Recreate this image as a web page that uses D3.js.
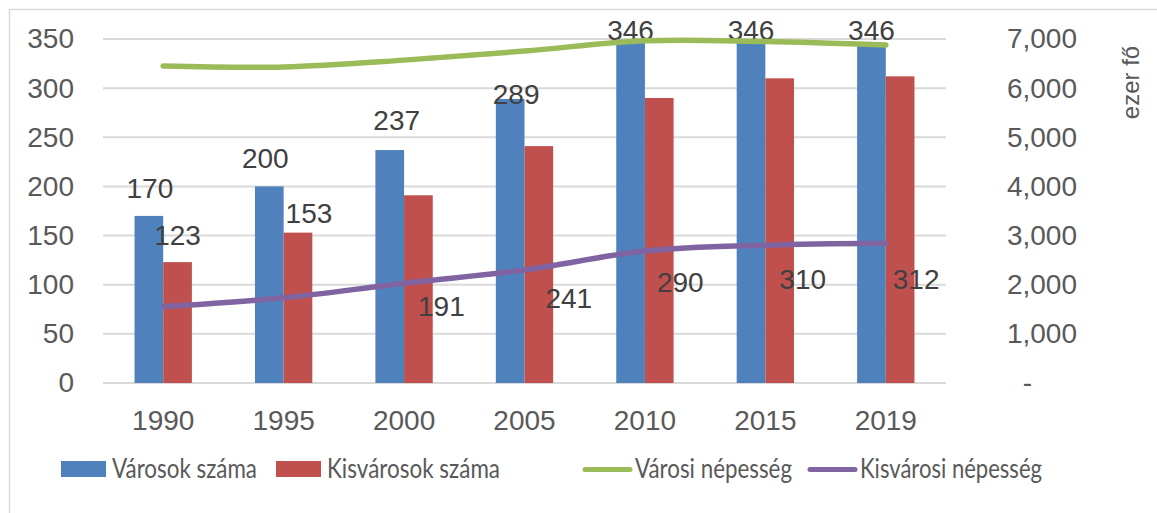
<!DOCTYPE html>
<html>
<head>
<meta charset="utf-8">
<script src="https://cdn.jsdelivr.net/npm/d3@7"></script>
<style>
  body { margin: 0; background: #fff; }
  svg { display: block; }
</style>
</head>
<body>
<div id="chart"></div>
<script>
// Data
const years = ["1990", "1995", "2000", "2005", "2010", "2015", "2019"];
const varosokSzama = [170, 200, 237, 289, 346, 346, 346];
const kisvarosokSzama = [123, 153, 191, 241, 290, 310, 312];
const varosiNepesseg = [6450, 6430, 6570, 6755, 6965, 6950, 6880];
const kisvarosiNepesseg = [1555, 1735, 2030, 2300, 2685, 2805, 2845];
const leftTicks = [0, 50, 100, 150, 200, 250, 300, 350];
const rightTicks = [0, 1000, 2000, 3000, 4000, 5000, 6000, 7000];

// label placement (as in the original, labels were moved by hand)
const blueLabelAt = [188, 219, 257, 284, 349, 349, 349];
const blueLabelDx = [1, -4, 7, 6, 0, 0, 0];
const redLabelAt = [140, 163, 68, 76, 93, 96, 96];
const redLabelDx = [0, 11, 23, 30, 21, 23, 16];

const W = 1157, H = 513;
const margin = {top: 39, right: 211, bottom: 130, left: 103};
const width = W - margin.left - margin.right,
      height = H - margin.top - margin.bottom;

const svg = d3.select("#chart").append("svg")
    .attr("width", W).attr("height", H);

// outer chart border
svg.append("rect")
    .attr("x", 9.5).attr("y", 9.5)
    .attr("width", W + 20).attr("height", H + 20)
    .attr("fill", "none").attr("stroke", "#d9d9d9").attr("stroke-width", 1.5);

const g = svg.append("g").attr("transform", `translate(${margin.left},${margin.top})`);

const x0 = d3.scaleBand().domain(years).range([0, width]);
const x1 = d3.scaleBand().domain(["v", "k"]).range([0, x0.bandwidth()]).paddingOuter(1.1);
const y = d3.scaleLinear().domain([0, 350]).range([height, 0]);
const y2 = d3.scaleLinear().domain([0, 7000]).range([height, 0]);

const numFont = "'Liberation Sans', Arial, sans-serif";

// gridlines
g.append("g").selectAll("line").data(leftTicks).join("line")
    .attr("x1", 0).attr("x2", width)
    .attr("y1", d => y(d)).attr("y2", d => y(d))
    .attr("stroke", "#d9d9d9").attr("stroke-width", 2);

// left axis
const la = g.append("g").call(d3.axisLeft(y).tickValues(leftTicks).tickSize(0).tickPadding(29));
la.select(".domain").remove();
la.selectAll("text").attr("font-family", numFont).attr("font-size", 28).attr("fill", "#595959");

// right axis
const ra = g.append("g").attr("transform", `translate(${width + 131},0)`)
    .call(d3.axisRight(y2).tickValues(rightTicks).tickSize(0).tickPadding(0)
      .tickFormat(d => d === 0 ? "-" : d3.format(",")(d)));
ra.select(".domain").remove();
ra.selectAll("text").attr("font-family", numFont).attr("font-size", 28).attr("fill", "#595959")
    .attr("text-anchor", "end").attr("x", 0)
    .filter(d => d === 0).attr("x", -45);

// right axis title
g.append("text")
    .attr("transform", `translate(${width + 193},${82.5 - margin.top}) rotate(-90)`)
    .attr("text-anchor", "middle")
    .attr("font-family", numFont).attr("font-size", 24).attr("fill", "#595959")
    .text("ezer fő");

// x axis labels
const xa = g.append("g").attr("transform", `translate(0,${height})`)
    .call(d3.axisBottom(x0).tickSize(0));
xa.select(".domain").remove();
xa.selectAll("text").attr("font-family", numFont).attr("font-size", 28).attr("fill", "#595959")
    .attr("dy", null).attr("y", 47);

// bars
const groups = g.append("g").selectAll("g").data(years).join("g")
    .attr("transform", d => `translate(${x0(d)},0)`);
groups.append("rect")
    .attr("x", x1("v")).attr("width", x1.bandwidth())
    .attr("y", (d, i) => y(varosokSzama[i]))
    .attr("height", (d, i) => height - y(varosokSzama[i]))
    .attr("fill", "#4f81bd");
groups.append("rect")
    .attr("x", x1("k")).attr("width", x1.bandwidth())
    .attr("y", (d, i) => y(kisvarosokSzama[i]))
    .attr("height", (d, i) => height - y(kisvarosokSzama[i]))
    .attr("fill", "#c0504d");

// lines
const cx = d => x0(d) + x0.bandwidth() / 2;
const line = d3.line().curve(d3.curveCatmullRom.alpha(0.5));
g.append("path")
    .attr("d", line(years.map((d, i) => [cx(d), y2(varosiNepesseg[i])])))
    .attr("fill", "none").attr("stroke", "#9bbb59").attr("stroke-width", 5.5)
    .attr("stroke-linecap", "round");
g.append("path")
    .attr("d", line(years.map((d, i) => [cx(d), y2(kisvarosiNepesseg[i])])))
    .attr("fill", "none").attr("stroke", "#8064a2").attr("stroke-width", 5.5)
    .attr("stroke-linecap", "round");

// data labels
groups.append("text")
    .attr("x", (d, i) => x1("v") + x1.bandwidth() / 2 + blueLabelDx[i])
    .attr("y", (d, i) => y(blueLabelAt[i]))
    .attr("text-anchor", "middle")
    .attr("font-family", numFont).attr("font-size", 28).attr("fill", "#404040")
    .text((d, i) => varosokSzama[i]);
groups.append("text")
    .attr("x", (d, i) => x1("k") + x1.bandwidth() / 2 + redLabelDx[i])
    .attr("y", (d, i) => y(redLabelAt[i]))
    .attr("text-anchor", "middle")
    .attr("font-family", numFont).attr("font-size", 28).attr("fill", "#404040")
    .text((d, i) => kisvarosokSzama[i]);

// legend
const legend = [
  {name: "Városok száma", color: "#4f81bd", type: "bar", x: 61, len: 145},
  {name: "Kisvárosok száma", color: "#c0504d", type: "bar", x: 276, len: 173},
  {name: "Városi népesség", color: "#9bbb59", type: "line", x: 583, len: 157},
  {name: "Kisvárosi népesség", color: "#8064a2", type: "line", x: 808, len: 182}
];
const lg = svg.append("g");
legend.forEach(l => {
  if (l.type === "bar") {
    lg.append("rect").attr("x", l.x).attr("y", 461).attr("width", 45).attr("height", 16)
      .attr("fill", l.color);
  } else {
    lg.append("line").attr("x1", l.x + 2).attr("x2", l.x + 47).attr("y1", 469.5).attr("y2", 469.5)
      .attr("stroke", l.color).attr("stroke-width", 5).attr("stroke-linecap", "round");
  }
  lg.append("text").attr("x", l.x + (l.type === "bar" ? 51 : 52)).attr("y", 478)
    .attr("font-family", "Lato, 'Open Sans', sans-serif").attr("font-size", 27)
    .attr("fill", "#595959")
    .attr("textLength", l.len).attr("lengthAdjust", "spacingAndGlyphs")
    .text(l.name);
});
</script>
</body>
</html>
